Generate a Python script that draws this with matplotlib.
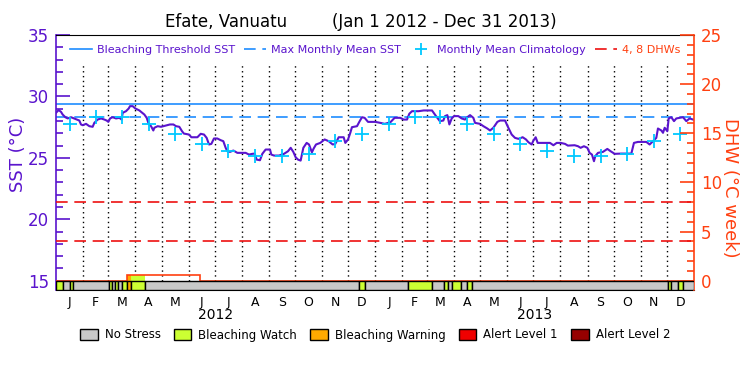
import numpy as np
import matplotlib
matplotlib.use('Agg')
import matplotlib.pyplot as plt
from matplotlib.lines import Line2D
from matplotlib.patches import Patch
from matplotlib.transforms import blended_transform_factory

plt.rcParams['font.family'] = 'DejaVu Sans'

# ---- data (days since Jan 1 2012) ----
sst_day = [0, 3, 5.7, 7.6, 10.7, 13.4, 17.2, 21, 23.7, 26.7, 28.6, 30.6, 34.4, 38.2, 42, 43.9,
           47.7, 51.6, 55.4, 58, 60, 61.9, 64.9, 68.8, 72.6, 75.2, 76.4, 80.2, 83.3, 84.8, 87.9,
           90.9, 95.5, 101.2, 103.9, 106.2, 108.9, 111.5, 112.7, 116.5, 120.3, 126, 130.6, 134.5,
           137.5, 141.3, 144.4, 146.5, 152.4, 155.1, 162, 165.8, 169.6, 172.6, 175.3, 178, 181,
           184.8, 188.7, 191.7, 194.4, 196.3, 199.4, 203.2, 207.8, 213.5, 217.3, 221.1, 225,
           227.6, 229.9, 233.7, 236.4, 240.2, 245.2, 246.7, 249.8, 255.5, 261.2, 265.8, 268.9,
           271.9, 274.6, 277.3, 280.3, 283.4, 287.2, 289.9, 293.2, 295.2, 297.9, 302.8, 307.8,
           312.4, 317, 320, 323.9, 329.6, 331.5, 334.6, 337.2, 339.1, 344.9, 347.5, 350.6, 353.6,
           357.5, 365.9, 371.6, 376.6, 383.1, 388, 394.5, 398.3, 402.2, 404.8, 407.9, 415.5,
           421.3, 430.8, 434.6, 439.8, 443.8, 445.7, 448.4, 450.7, 453.4, 456, 461, 464.8, 468.6,
           471.3, 474.4, 478.2, 480.1, 485.8, 489.7, 494.2, 497.3, 501.1, 505.7, 508.8, 514.5,
           518.3, 522.1, 525.9, 529.8, 534.7, 538.5, 541.2, 545, 547, 549.6, 551.9, 554.6, 566,
           569.9, 573.7, 578.3, 583.2, 586.5, 594.2, 598.1, 601.1, 604.9, 608.8, 611.4, 614.1,
           616.4, 617.9, 621, 626.7, 631.7, 635.5, 640.1, 647.7, 659.2, 662.2, 666.8, 676.4,
           680.2, 684, 687.8, 689.7, 693.6, 695.5, 697.4, 700.4, 702, 705, 708.1, 710.7, 718.4,
           722.2, 726, 729.8, 731]
sst_val = [28.67, 28.89, 28.75, 28.53, 28.31, 28.21, 28.31, 28.2, 28.12, 28.04, 27.72, 27.66,
           27.77, 27.58, 27.53, 27.85, 28.12, 28.21, 28.12, 28.04, 27.93, 28.21, 28.31, 28.21,
           28.26, 28.12, 28.67, 28.8, 29.02, 29.21, 29.21, 29.02, 28.86, 28.53, 28.26, 27.77,
           27.58, 27.23, 27.45, 27.58, 27.53, 27.64, 27.72, 27.72, 27.58, 27.53, 27.17, 26.98,
           26.9, 26.68, 26.68, 26.96, 26.9, 26.63, 26.09, 26.14, 26.58, 26.58, 26.44, 26.36,
           25.82, 25.54, 25.49, 25.6, 25.41, 25.41, 25.41, 25.27, 25.33, 25.35, 24.86, 24.81,
           25.33, 25.68, 25.68, 25.27, 25.19, 25.19, 25.33, 25.54, 25.82, 25.49, 25.05, 24.86,
           24.78, 25.82, 26.22, 26.09, 25.45, 25.76, 26.09, 26.22, 26.5, 26.36, 26.09, 26.14,
           26.68, 26.68, 26.22, 26.5, 27.04, 27.5, 27.58, 27.93, 28.31, 28.26, 27.93, 27.93,
           27.85, 27.77, 27.9, 28.26, 28.26, 28.12, 28.12, 28.59, 28.8, 28.8, 28.86, 28.86,
           28.48, 27.99, 28.04, 28.4, 28.48, 27.72, 28.21, 28.4, 28.4, 28.21, 28.12, 28.31,
           28.48, 28.26, 27.85, 27.77, 27.58, 27.39, 27.23, 27.45, 27.93, 28.04, 28.04, 27.45,
           26.9, 26.63, 26.55, 26.68, 26.5, 26.28, 26.09, 26.41, 26.68, 26.22, 26.22, 26.22,
           26.03, 26.22, 26.22, 26.14, 26.0, 26.03, 25.95, 25.82, 25.95, 25.82, 25.41, 25.27,
           24.73, 25.14, 25.41, 25.49, 25.73, 25.54, 25.33, 25.35, 25.35, 26.22, 26.3, 26.3,
           26.09, 26.36, 26.63, 27.39, 27.23, 27.04, 27.45, 27.17, 28.21, 28.31, 27.99, 28.21,
           28.31, 27.99, 28.21, 28.12, 28.12]

clim_monthly = [27.72, 28.35, 28.3, 27.72, 26.98, 26.17, 25.54, 25.14, 25.14, 25.33, 26.36, 26.98]
mmm = 28.35
threshold = 29.35
dhw_levels = [4, 8]

# DHW step series
dhw_edges = [0, 81.7, 165.4, 731]
dhw_vals = [0, 0.6, 0]

# bleaching alert area stress level bar
stress_edges = [0, 8.4, 16, 19.1, 61.1, 64.6, 67.6, 71.4, 75.2, 81.7, 85.9, 102.4, 347.5,
                354.6, 403.6, 431, 444.8, 449.4, 453.2, 463.6, 470.4, 476.9, 701.4, 704.5,
                712.1, 718.6, 731]
stress_level = [1, 0, 1, 0, 1, 0, 1, 0, 1, 2, 1, 0, 1, 0, 1, 0, 1, 0, 1, 0, 1, 0, 1, 0, 1, 0]

stress_names = ['No Stress', 'Bleaching Watch', 'Bleaching Warning', 'Alert Level 1', 'Alert Level 2']
stress_colors = ['#c8c8c8', '#ccff33', '#ffaa00', '#f00000', '#960000']

month_letters = ['J', 'F', 'M', 'A', 'M', 'J', 'J', 'A', 'S', 'O', 'N', 'D']
years = ['2012', '2013']

# ---- colours ----
PURPLE = '#5a14cd'
BLUE = '#1e8cff'
CYAN = '#00c8ff'
RED = '#ee1111'
ORANGE = '#ff4010'

# calendar positions
months = np.arange('2012-01', '2014-02', dtype='datetime64[M]').astype('datetime64[D]')
month_edges = (months - np.datetime64('2012-01-01')).astype(int)
month_mid = (month_edges[:-1] + month_edges[1:]) / 2
n_days = month_edges[-1]

fig = plt.figure(figsize=(7.5, 3.75), dpi=100)
ax = fig.add_axes([56 / 750, 1 - 290 / 375, 638 / 750, 255 / 375])
ax2 = ax.twinx()

ax.set_xlim(0, n_days)
ax.set_ylim(14.25, 35)
ax2.set_ylim((14.25 - 15) * 1.25, 25)

# month separators
ax.vlines(month_edges[1:-1], 15, 32.6, colors='black', linestyles=(0, (1, 2.5)), linewidth=1)

ax.axhline(threshold, color=BLUE, linewidth=1.2)
ax.axhline(mmm, color=BLUE, linewidth=1.2, linestyle=(0, (7, 4)))
ax.plot(sst_day, sst_val, color=PURPLE, linewidth=1.5, zorder=4)
ax.plot(month_mid, np.tile(clim_monthly, 2), linestyle='none', marker='+',
        markersize=10, markeredgewidth=1.3, color=CYAN, zorder=5)

# DHW stuff on right axis
for lev in dhw_levels:
    ax2.axhline(lev, color=RED, linewidth=1.2, linestyle=(0, (7, 4)))
ax2.stairs(dhw_vals, dhw_edges, color=ORANGE, linewidth=1.2, zorder=2)
ybot = ax2.get_ylim()[0]
for i, lev in enumerate(stress_level):
    left, right = stress_edges[i], stress_edges[i + 1]
    col = stress_colors[lev]
    ax2.bar(left, -ybot, width=right - left, bottom=ybot,
            align='edge', color=col, edgecolor='black', linewidth=1, zorder=3)
    if lev > 0:
        k = np.searchsorted(dhw_edges, (left + right) / 2) - 1
        if dhw_vals[k] > 0:
            ax2.bar(left, dhw_vals[k], width=right - left, bottom=0, align='edge',
                    color=col, linewidth=0, zorder=1.5)

# axes styling
ax.spines['right'].set_visible(False)
ax.spines['left'].set_color(PURPLE)
ax.spines['left'].set_linewidth(1.2)
for s in ['left', 'top', 'bottom']:
    ax2.spines[s].set_visible(False)
ax2.spines['right'].set_color(ORANGE)
ax2.spines['right'].set_linewidth(1.2)

ax.set_yticks([15, 20, 25, 30, 35])
ax.set_yticks(np.arange(15, 36, 1), minor=True)
ax.tick_params(axis='y', which='major', direction='in', length=10, width=1.2,
               color=PURPLE, labelcolor=PURPLE, labelsize=12, pad=5)
ax.tick_params(axis='y', which='minor', direction='in', length=5, width=1.2, color=PURPLE)
ax.set_ylabel('SST (°C)', color=PURPLE, fontsize=13)
ax.yaxis.set_label_coords(-0.046, 0.53)

ax2.set_yticks([0, 5, 10, 15, 20, 25])
ax2.set_yticks(np.arange(0, 26, 1), minor=True)
ax2.tick_params(axis='y', which='major', direction='in', length=10, width=1.2,
                color=ORANGE, labelcolor=ORANGE, labelsize=12, pad=5)
ax2.tick_params(axis='y', which='minor', direction='in', length=5, width=1.2, color=ORANGE)
ax2.set_ylabel('DHW (°C week)', color=ORANGE, fontsize=13, rotation=270)
ax2.yaxis.set_label_coords(1.071, 0.40)

ax.set_xticks(month_mid)
ax.set_xticklabels(month_letters * 2)
ax.tick_params(axis='x', length=0, labelsize=9, pad=4)
trans = blended_transform_factory(ax.transData, ax.transAxes)
for j, yr in enumerate(years):
    ax.text((month_edges[12 * j] + month_edges[12 * j + 12]) / 2, -0.098, yr,
            transform=trans, ha='center', va='center', fontsize=10)

# legend at the top
handles = [Line2D([], [], color=BLUE, linewidth=1.2),
           Line2D([], [], color=BLUE, linewidth=1.2, linestyle=(0, (7, 4))),
           Line2D([], [], color=CYAN, linestyle='none', marker='+', markersize=9, markeredgewidth=1.3),
           Line2D([], [], color=RED, linewidth=1.2, linestyle=(0, (7, 4)))]
labels = ['Bleaching Threshold SST', 'Max Monthly Mean SST', 'Monthly Mean Climatology', '4, 8 DHWs']
leg = ax2.legend(handles, labels, ncol=4, loc='center', bbox_to_anchor=(0.5, 0.94),
                 frameon=False, fontsize=8, handlelength=2.0, handletextpad=0.45,
                 columnspacing=0.8)
for t, c in zip(leg.get_texts(), [PURPLE, PURPLE, PURPLE, ORANGE]):
    t.set_color(c)

# stress legend at the bottom
patches = [Patch(facecolor=c, edgecolor='black', linewidth=1) for c in stress_colors]
fig.legend(patches, stress_names, ncol=5, loc='center', bbox_to_anchor=(0.5, 1 - 335 / 375),
           frameon=False, fontsize=8.5, handlelength=1.5, handleheight=1.1,
           handletextpad=0.6, columnspacing=1.1)

fig.text(287 / 750, 1 - 22 / 375, 'Efate, Vanuatu', ha='right', va='center', fontsize=12)
fig.text(332 / 750, 1 - 22 / 375, '(Jan 1 2012 - Dec 31 2013)', ha='left', va='center', fontsize=12)

fig.savefig('out.png', dpi=100)
